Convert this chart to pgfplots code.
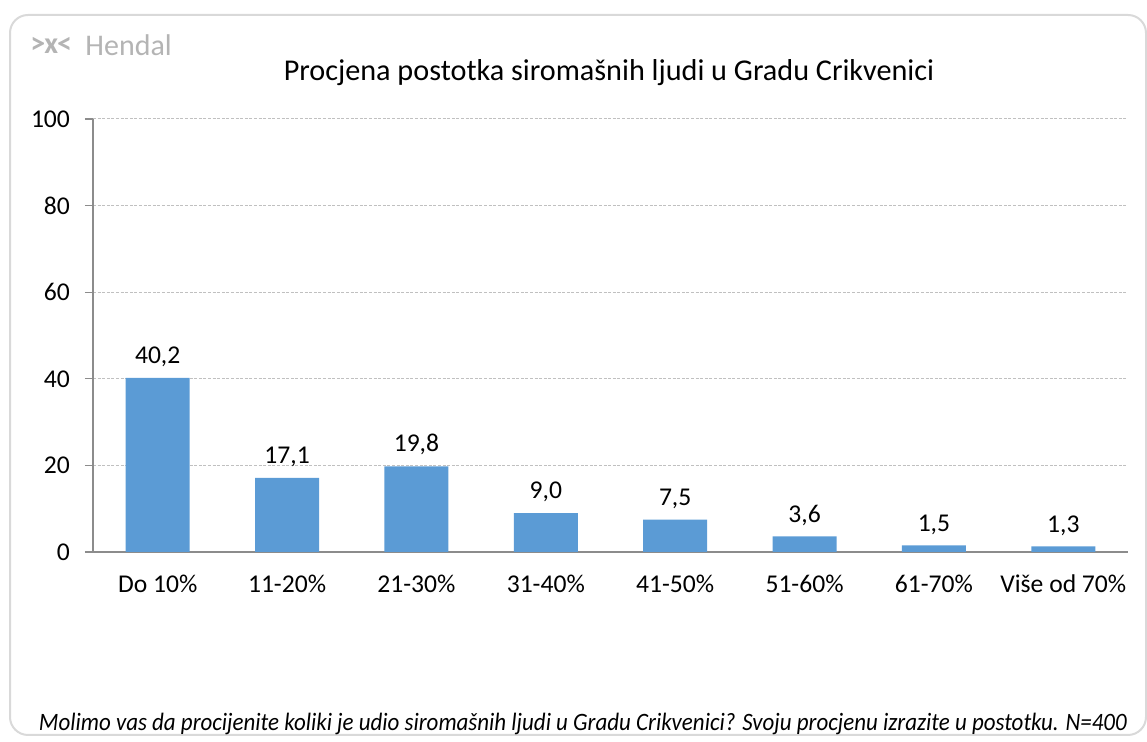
\documentclass[border=0pt]{standalone}
\usepackage{pgfplots}
\pgfplotsset{compat=1.18}
\usepackage{fontspec}
\setmainfont{Carlito}
\definecolor{barblue}{HTML}{5B9BD5}
\definecolor{axgray}{HTML}{8C8C8C}
\definecolor{gridgray}{HTML}{C0C0C0}
\definecolor{logogray}{HTML}{B4B4B4}
\begin{document}
\begin{tikzpicture}
\useasboundingbox (0,0) rectangle (573.5pt,371pt);
\begin{scope}
\clip (0,0) rectangle (573.5pt,371pt);
\draw[gray!30, line width=1pt, rounded corners=9pt] (5pt,3.5pt) rectangle (573pt,363.5pt);
\end{scope}
\node[anchor=west, text=logogray, font=\fontsize{15}{17}\selectfont\bfseries, inner sep=0pt] at (15pt,348.5pt) {>\kern-0.5pt x\kern-0.5pt<};
\node[anchor=west, text=logogray, font=\fontsize{15}{17}\selectfont, inner sep=0pt] at (42.5pt,348.5pt) {Hendal};
\node[font=\fontsize{15.1}{18}\selectfont] at (304.5pt,334.5pt) {Procjena postotka siromašnih ljudi u Gradu Crikvenici};
\node[font=\fontsize{12.5}{15}\selectfont\itshape] at (291.5pt,9pt) {\resizebox{544pt}{\height}{Molimo vas da procijenite koliki je udio siromašnih ljudi u Gradu Crikvenici? Svoju procjenu izrazite u postotku. N=400}};
\begin{axis}[
  at={(46.5pt,95pt)}, anchor=south west,
  scale only axis, width=517.5pt, height=216.5pt,
  xmin=-0.5, xmax=7.5, ymin=0, ymax=100,
  ytick={0,20,...,100},
  xtick={0,...,7},
  xticklabels={Do 10\%,11-20\%,21-30\%,31-40\%,41-50\%,51-60\%,61-70\%,Više od 70\%},
  extra x ticks={-0.5,0.5,...,7.5},
  extra x tick labels={},
  extra x tick style={major tick length=5pt, tick style={axgray, line width=0.6pt}, grid=none},
  x tick style={draw=none},
  y tick style={axgray, line width=0.6pt},
  major tick length=4pt,
  tick pos=left, tick align=outside,
  axis x line*=bottom, axis y line*=left,
  axis line style={axgray, line width=0.6pt, -},
  ymajorgrids, grid style={gridgray, dash pattern=on 1.5pt off 0.8pt, line width=0.5pt},
  ticklabel style={font=\fontsize{12.8}{15}\selectfont},
  xticklabel style={yshift=-4pt},
  yticklabel style={xshift=-4pt},
  /pgf/number format/assume math mode=true,
  ybar, bar width=32pt,
  nodes near coords,
  nodes near coords style={font=\fontsize{12.8}{15}\selectfont, yshift=2pt,
    /pgf/number format/fixed, /pgf/number format/fixed zerofill,
    /pgf/number format/precision=1, /pgf/number format/use comma,
    /pgf/number format/assume math mode=true},
]
\addplot[fill=barblue, draw=none] coordinates {(0,40.2) (1,17.1) (2,19.8) (3,9.0) (4,7.5) (5,3.6) (6,1.5) (7,1.3)};
\end{axis}
\end{tikzpicture}
\end{document}
